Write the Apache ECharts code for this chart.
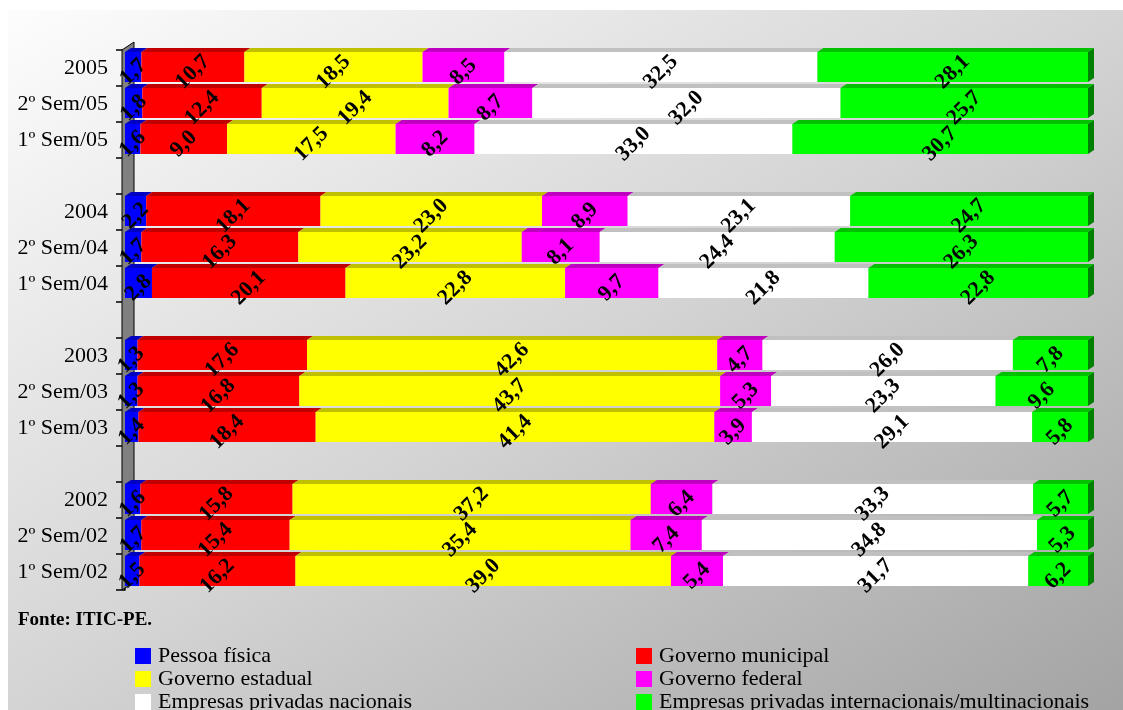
<!DOCTYPE html>
<html>
<head>
<meta charset="utf-8">
<script src="https://cdn.jsdelivr.net/npm/echarts@6/dist/echarts.min.js"></script>
<style>
  html, body { margin: 0; padding: 0; background: #ffffff; }
  #chart { width: 1123px; height: 710px; }
</style>
</head>
<body>
<div id="chart"></div>
<script>
// Periods, top to bottom
const periods = ['2005', '2º Sem/05', '1º Sem/05', '2004', '2º Sem/04', '1º Sem/04',
                 '2003', '2º Sem/03', '1º Sem/03', '2002', '2º Sem/02', '1º Sem/02'];

// Share of each source (%) per period
const pessoaFisica      = [1.7, 1.8, 1.6, 2.2, 1.7, 2.8, 1.3, 1.3, 1.4, 1.6, 1.7, 1.5];
const govMunicipal      = [10.7, 12.4, 9.0, 18.1, 16.3, 20.1, 17.6, 16.8, 18.4, 15.8, 15.4, 16.2];
const govEstadual       = [18.5, 19.4, 17.5, 23.0, 23.2, 22.8, 42.6, 43.7, 41.4, 37.2, 35.4, 39.0];
const govFederal        = [8.5, 8.7, 8.2, 8.9, 8.1, 9.7, 4.7, 5.3, 3.9, 6.4, 7.4, 5.4];
const empNacionais      = [32.5, 32.0, 33.0, 23.1, 24.4, 21.8, 26.0, 23.3, 29.1, 33.3, 34.8, 31.7];
const empInternacionais = [28.1, 25.7, 30.7, 24.7, 26.3, 22.8, 7.8, 9.6, 5.8, 5.7, 5.3, 6.2];

const seriesNames = ['Pessoa física', 'Governo municipal', 'Governo estadual',
                     'Governo federal', 'Empresas privadas nacionais',
                     'Empresas privadas internacionais/multinacionais'];
const seriesValues = [pessoaFisica, govMunicipal, govEstadual, govFederal, empNacionais, empInternacionais];

const sourceLine = 'Fonte: ITIC-PE.';

// Face colours: front, top, side
const palette = [
  ['#0000FF', '#0000C0', '#000080'],
  ['#FF0000', '#C00000', '#800000'],
  ['#FFFF00', '#C0C000', '#808000'],
  ['#FF00FF', '#C000C0', '#800080'],
  ['#FFFFFF', '#C0C0C0', '#808080'],
  ['#00FF00', '#00C000', '#008000']
];

// Category slots: a blank slot after every group of three periods
const slotOf = i => i + Math.floor(i / 3);
const slots = [];
periods.forEach((p, i) => {
  slots[slotOf(i)] = p;
});
for (let k = 0; k < slots.length; k++) if (slots[k] === undefined) slots[k] = ' '.repeat(k % 5 + 1);

const DX = 6, DY = 4;
const fmt = v => v.toFixed(1).replace('.', ',');
const serif = '"Liberation Serif", "Times New Roman", serif';

function renderBar(params, api) {
  const slot = api.value(0);
  const start = api.value(1), end = api.value(2), val = api.value(3), last = api.value(4);
  const p0 = api.coord([start, slot]);
  const p1 = api.coord([end, slot]);
  const band = api.size([0, 1])[1];
  const cy = p0[1];
  const top = cy - band / 2 + 2;
  const h = band - 6;
  const x0 = p0[0], x1 = p1[0];
  const col = palette[params.seriesIndex];
  const children = [
    { type: 'polygon', shape: { points: [[x0, top], [x1, top], [x1 + DX, top - DY], [x0 + DX, top - DY]] },
      style: { fill: col[1] } },
    { type: 'rect', shape: { x: x0, y: top, width: x1 - x0, height: h }, style: { fill: col[0] } }
  ];
  if (last) {
    children.push({ type: 'polygon',
      shape: { points: [[x1, top], [x1 + DX, top - DY], [x1 + DX, top + h - DY], [x1, top + h]] },
      style: { fill: col[2] } });
  }
  children.push({
    type: 'text', x: (x0 + x1) / 2, y: cy + 4, rotation: Math.PI / 4, z2: 100,
    style: { text: fmt(val), fill: '#000', align: 'center', verticalAlign: 'middle',
             font: 'bold 22px ' + serif }
  });
  return { type: 'group', children };
}

const cum = periods.map(() => 0);
const series = seriesNames.map((name, s) => {
  const data = periods.map((p, i) => {
    const v = seriesValues[s][i];
    const item = [slotOf(i), cum[i], cum[i] + v, v, s === seriesNames.length - 1 ? 1 : 0];
    cum[i] += v;
    return item;
  });
  return {
    name, type: 'custom', renderItem: renderBar, data,
    encode: { x: [1, 2], y: 0 },
    itemStyle: { color: palette[s][0] }
  };
});

// Legend: two columns of three entries
const legendSpots = [[135, 645], [636, 645], [135, 668], [636, 668], [135, 691], [636, 691]];
const legends = seriesNames.map((name, s) => ({
  data: [name], left: legendSpots[s][0], top: legendSpots[s][1], padding: 0,
  itemWidth: 16, itemHeight: 16, icon: 'rect', selectedMode: false,
  textStyle: { fontFamily: serif, fontSize: 22, color: '#000', padding: [0, 0, 0, 2] }
}));

const chart = echarts.init(document.getElementById('chart'), null, { renderer: 'canvas' });
chart.setOption({
  animation: false,
  backgroundColor: '#ffffff',
  grid: { left: 125, right: 35, top: 50, bottom: 120 },
  xAxis: { type: 'value', min: 0, max: 100, show: false },
  yAxis: {
    type: 'category', data: slots, inverse: true, offset: 3,
    axisLine: { show: true, lineStyle: { color: '#000', width: 1.5 } },
    axisTick: { show: true, length: 9, lineStyle: { color: '#000', width: 1.5 } },
    axisLabel: { margin: 14, fontFamily: serif, fontSize: 22, color: '#000' },
    splitLine: { show: false }
  },
  legend: legends,
  graphic: [
    { type: 'rect', z: -10, shape: { x: 8, y: 10, width: 1115, height: 700 },
      style: { fill: new echarts.graphic.LinearGradient(8, 10, 637, 1016,
        [{ offset: 0, color: '#fdfdfd' }, { offset: 0.5, color: '#d4d4d4' }, { offset: 1, color: '#a3a3a3' }], true) } },
    { type: 'polygon', z: 1, shape: { points: [[122, 590], [122, 50], [134, 42], [134, 582]] },
      style: { fill: '#808080', stroke: '#000', lineWidth: 1 } },
    { type: 'text', z: 5, left: 18, top: 611,
      style: { text: sourceLine, font: 'bold 19px ' + serif, fill: '#000' } }
  ],
  series
});
</script>
</body>
</html>
